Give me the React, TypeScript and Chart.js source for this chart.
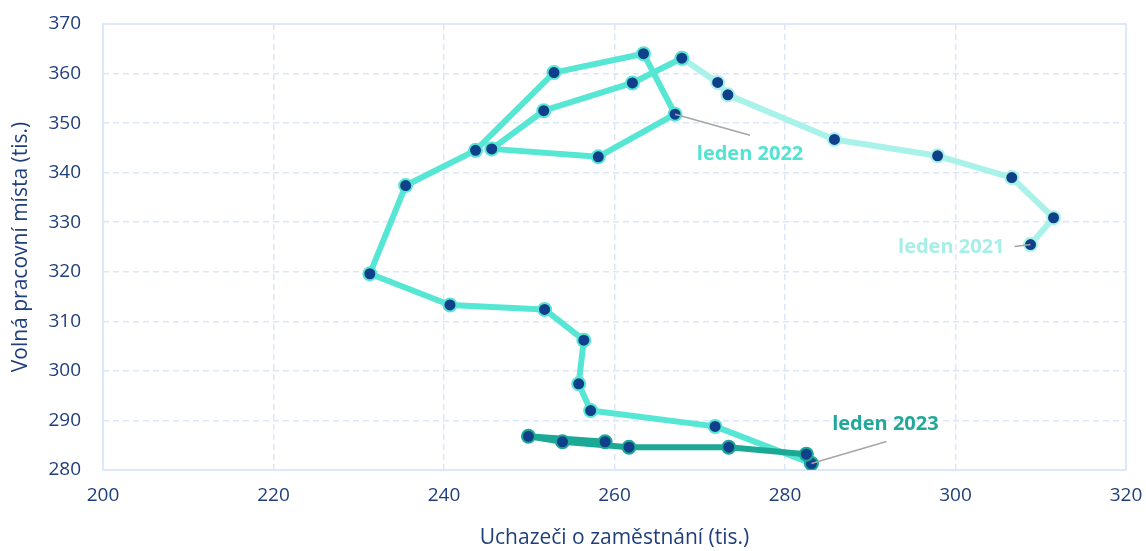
import { useEffect, useRef } from "react";
import { Chart, registerables } from "chart.js";

Chart.register(...registerables);

// --- Data (tis.) ---
const periods2021 = ["1/2021", "2/2021", "3/2021", "4/2021", "5/2021", "6/2021", "7/2021", "8/2021"];
const applicants2021 = [308.8, 311.5, 306.6, 297.9, 285.8, 273.3, 272.1, 267.9];
const vacancies2021 = [325.5, 330.9, 339.0, 343.4, 346.7, 355.7, 358.2, 363.1];

const periods2022 = [
  "8/2021", "9/2021", "10/2021", "11/2021", "12/2021",
  "1/2022", "2/2022", "3/2022", "4/2022", "5/2022", "6/2022",
  "7/2022", "8/2022", "9/2022", "10/2022", "11/2022", "12/2022", "1/2023",
];
const applicants2022 = [
  267.9, 262.1, 251.7, 245.6, 258.1,
  267.1, 263.4, 252.9, 243.7, 235.5, 231.3,
  240.7, 251.8, 256.4, 255.8, 257.2, 271.8, 283.1,
];
const vacancies2022 = [
  363.1, 358.1, 352.5, 344.8, 343.2,
  351.8, 364.0, 360.2, 344.5, 337.4, 319.6,
  313.3, 312.4, 306.2, 297.4, 292.0, 288.8, 281.3,
];

const periods2023 = ["1/2023", "2/2023", "3/2023", "4/2023", "5/2023", "6/2023", "7/2023"];
const applicants2023 = [283.1, 282.5, 273.4, 261.7, 253.9, 249.9, 258.9];
const vacancies2023 = [281.3, 283.2, 284.6, 284.6, 285.7, 286.8, 285.7];

const xTitle = "Uchazeči o zaměstnání (tis.)";
const yTitle = "Volná pracovní místa (tis.)";

// annotations: label text, which series / period it points at
const noteTexts = ["leden 2021", "leden 2022", "leden 2023"];
const noteSeries = [0, 1, 2];
const notePeriods = ["1/2021", "1/2022", "1/2023"];

const COLOR_LIGHT = "#a8f2ea";
const COLOR_MID = "#55e6d4";
const COLOR_DARK = "#1ba996";
const NOTE_COLORS = ["#a6efe6", "#52e3d1", "#22a898"];
const POINT_FILL = "#10408a";
const AXIS_TEXT = "#1f3e7c";
const GRID = "#dbe6f8";
const FONT = "'Open Sans', sans-serif";

// pixel offsets for annotation leader lines and texts (layout only)
const noteLayout = [
  { lx: -16, ly: 2, tx: -26, ty: 3, align: "right" as CanvasTextAlign },
  { lx: 75, ly: 21, tx: 75, ty: 40, align: "center" as CanvasTextAlign },
  { lx: 75, ly: -22, tx: 74, ty: -39, align: "center" as CanvasTextAlign },
];

const seriesPeriods = [periods2021, periods2022, periods2023];
const seriesX = [applicants2021, applicants2022, applicants2023];
const seriesY = [vacancies2021, vacancies2022, vacancies2023];

function toPoints(xs: number[], ys: number[]) {
  return xs.map((x, i) => ({ x, y: ys[i] }));
}

const borderPlugin = {
  id: "areaBorder",
  beforeDatasetsDraw(chart: any) {
    const { ctx, chartArea } = chart;
    ctx.save();
    ctx.strokeStyle = "#dde8fa";
    ctx.lineWidth = 2;
    ctx.strokeRect(chartArea.left, chartArea.top, chartArea.right - chartArea.left, chartArea.bottom - chartArea.top);
    ctx.restore();
  },
};

const notesPlugin = {
  id: "notes",
  afterDatasetsDraw(chart: any) {
    const { ctx } = chart;
    const xs = chart.scales.x;
    const ys = chart.scales.y;
    noteTexts.forEach((text, i) => {
      const s = noteSeries[i];
      const idx = seriesPeriods[s].indexOf(notePeriods[i]);
      const px = xs.getPixelForValue(seriesX[s][idx]);
      const py = ys.getPixelForValue(seriesY[s][idx]);
      const L = noteLayout[i];
      ctx.save();
      ctx.strokeStyle = "#a6a6a6";
      ctx.lineWidth = 1.5;
      ctx.beginPath();
      ctx.moveTo(px, py);
      ctx.lineTo(px + L.lx, py + L.ly);
      ctx.stroke();
      ctx.fillStyle = NOTE_COLORS[i];
      ctx.font = `bold 20px ${FONT}`;
      ctx.textAlign = L.align;
      ctx.textBaseline = "middle";
      ctx.fillText(text, px + L.tx, py + L.ty);
      ctx.restore();
    });
  },
};

export default function App() {
  const ref = useRef<HTMLCanvasElement | null>(null);

  useEffect(() => {
    if (!ref.current) return;
    const mk = (i: number, color: string) => ({
      label: seriesPeriods[i][0],
      data: toPoints(seriesX[i], seriesY[i]),
      showLine: true,
      borderColor: color,
      borderWidth: 6,
      pointRadius: 6.5,
      pointBorderWidth: 2,
      pointBackgroundColor: POINT_FILL,
      pointBorderColor: color,
      borderJoinStyle: "round" as const,
      borderCapStyle: "round" as const,
      tension: 0,
    });
    const chart = new Chart(ref.current, {
      type: "scatter",
      data: {
        datasets: [mk(2, COLOR_DARK), mk(1, COLOR_MID), mk(0, COLOR_LIGHT)],
      },
      options: {
        animation: false,
        responsive: false,
        layout: { padding: { left: 0, top: 24, right: 20, bottom: 0 } },
        plugins: {
          legend: { display: false },
          tooltip: { enabled: false },
        },
        scales: {
          x: {
            type: "linear",
            min: 200,
            max: 320,
            ticks: {
              stepSize: 20,
              color: AXIS_TEXT,
              font: { family: FONT, size: 19 },
              padding: 14,
            },
            grid: {
              color: GRID,
              lineWidth: 1.5,
              drawTicks: false,
            },
            border: { display: false, dash: [6, 4] },
            title: {
              display: true,
              text: xTitle,
              color: AXIS_TEXT,
              font: { family: FONT, size: 21 },
              padding: { top: 0, bottom: 0 },
            },
            afterFit: (s: any) => {
              s.height = 81;
              s.paddingLeft = 0;
              s.paddingRight = 0;
            },
          },
          y: {
            type: "linear",
            min: 280,
            max: 370,
            ticks: {
              stepSize: 10,
              color: AXIS_TEXT,
              font: { family: FONT, size: 19 },
              padding: 22,
            },
            grid: {
              color: GRID,
              lineWidth: 1.5,
              drawTicks: false,
            },
            border: { display: false, dash: [6, 4] },
            title: {
              display: true,
              text: yTitle,
              color: AXIS_TEXT,
              font: { family: FONT, size: 21 },
              padding: { top: 8, bottom: 0 },
            },
            afterFit: (s: any) => {
              s.width = 103;
              s.paddingTop = 0;
              s.paddingBottom = 0;
            },
          },
        },
      },
      plugins: [borderPlugin, notesPlugin],
    });
    return () => chart.destroy();
  }, []);

  return (
    <div style={{ position: "fixed", left: 0, top: 0, width: 1146, height: 551, background: "#fff" }}>
      <canvas ref={ref} width={1146} height={551} style={{ width: 1146, height: 551 }} />
    </div>
  );
}
